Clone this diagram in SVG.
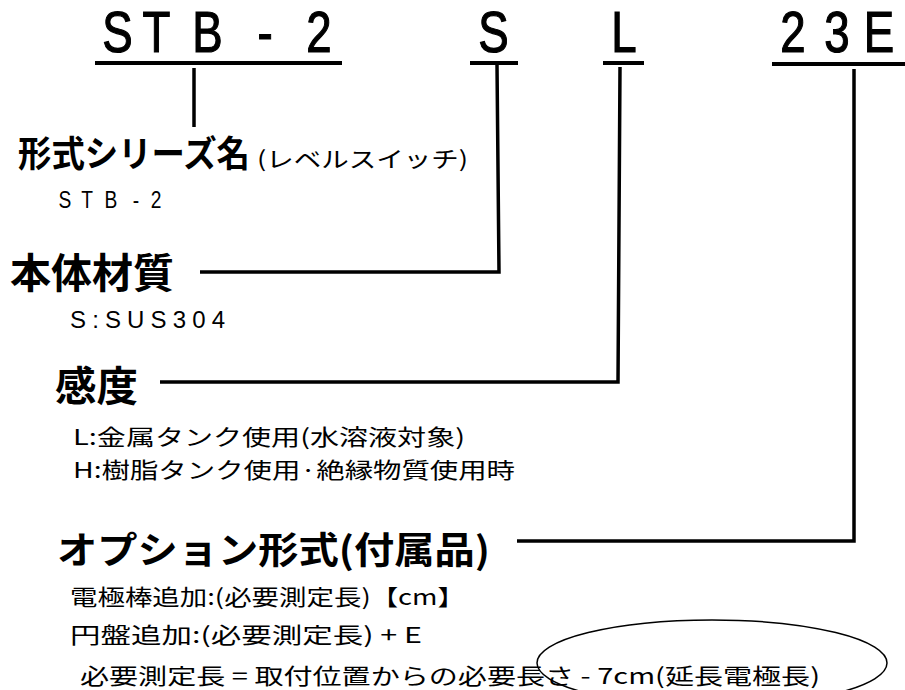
<svg xmlns="http://www.w3.org/2000/svg" width="905" height="690" viewBox="0 0 905 690">
<style>
.code{font-family:"Liberation Sans","Noto Sans CJK JP",sans-serif;font-size:57px;fill:#000;stroke:#000;stroke-width:1.2;text-anchor:middle}
.lat{font-family:"Liberation Sans","Noto Sans CJK JP",sans-serif;font-size:24px;fill:#000}
.h{font-family:"Noto Sans CJK JP",sans-serif;font-weight:bold;fill:#000}
.t{font-family:"Noto Sans CJK JP",sans-serif;font-size:22px;fill:#000}
.ul{stroke:#000;stroke-width:4;fill:none}
.cn{stroke:#000;stroke-width:3.5;fill:none}
</style>
<rect width="905" height="690" fill="#fff"/>
<g id="code-stb">
<text class="code" transform="scale(0.8,1)" x="146.9 195.6 259.4 300 331.25 365 398.75" y="52">STB - 2</text>
<line class="ul" x1="95" y1="63" x2="342" y2="63"/>
</g>
<g id="code-s">
<text class="code" transform="scale(0.8,1)" x="616.9" y="52">S</text>
<line class="ul" x1="470" y1="63" x2="518" y2="63"/>
</g>
<g id="code-l">
<text class="code" transform="scale(0.8,1)" x="780" y="52">L</text>
<line class="ul" x1="603" y1="63" x2="644" y2="63"/>
</g>
<g id="code-23e">
<text class="code" transform="scale(0.8,1)" x="991.25 1046.25 1098.75" y="52">23E</text>
<line class="ul" x1="772" y1="64" x2="905" y2="64"/>
</g>
<g id="series">
<text class="h" x="18" y="167" font-size="36" textLength="232" lengthAdjust="spacingAndGlyphs">形式シリーズ名</text>
<text class="t" x="257" y="167" textLength="211" lengthAdjust="spacingAndGlyphs">(レベルスイッチ)</text>
<text class="lat" transform="scale(0.8,1)" x="81.25 108.75 138.75 155 170 183 195" y="208" text-anchor="middle">STB - 2</text>
</g>
<g id="material">
<text class="h" x="10" y="288" font-size="41" textLength="164" lengthAdjust="spacingAndGlyphs">本体材質</text>
<text class="lat" x="70" y="328" textLength="155" lengthAdjust="spacing">S:SUS304</text>
</g>
<g id="sensitivity">
<text class="h" x="55" y="401" font-size="41" textLength="83" lengthAdjust="spacingAndGlyphs">感度</text>
<text class="t" x="73" y="445" textLength="392" lengthAdjust="spacingAndGlyphs">L:金属タンク使用(水溶液対象)</text>
<text class="t" x="73" y="478" textLength="442" lengthAdjust="spacingAndGlyphs">H:樹脂タンク使用·絶縁物質使用時</text>
</g>
<g id="option">
<text class="h" x="57" y="564" font-size="37" textLength="433" lengthAdjust="spacingAndGlyphs">オプション形式(付属品)</text>
<text class="t" x="70" y="605" textLength="395" lengthAdjust="spacingAndGlyphs">電極棒追加:(必要測定長)【cm】</text>
<text class="t" x="70" y="643" textLength="352" lengthAdjust="spacingAndGlyphs">円盤追加:(必要測定長) + E</text>
<text class="t" x="80" y="684" textLength="740" lengthAdjust="spacingAndGlyphs">必要測定長 = 取付位置からの必要長さ - 7cm(延長電極長)</text>
<ellipse cx="712" cy="663" rx="175" ry="43" fill="none" stroke="#000" stroke-width="1.5"/>
</g>
<g id="connectors">
<line class="cn" x1="194" y1="68" x2="194" y2="127"/>
<polyline class="cn" points="497,65 499,272 200,272"/>
<polyline class="cn" points="620,67 618,382 160,382"/>
<polyline class="cn" stroke-width="4.5" points="854,69 854,541 517,541"/>
</g>
</svg>
